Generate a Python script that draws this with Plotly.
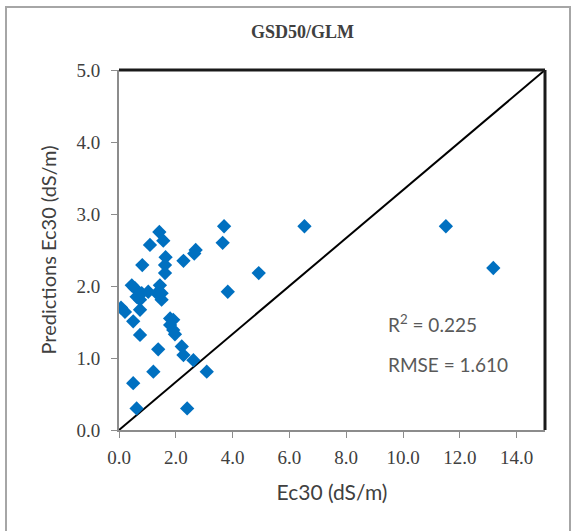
import plotly.graph_objects as go

# Observed Ec30 (dS/m) and predicted Ec30 (dS/m)
ec30_obs = [0.07, 0.21, 0.45, 0.56, 0.50, 0.50, 0.62, 0.62, 0.74, 0.74, 0.74, 0.80,
            0.82, 1.03, 1.09, 1.21, 1.33, 1.38, 1.42, 1.44, 1.50, 1.50, 1.56, 1.62,
            1.62, 1.64, 1.80, 1.91, 1.80, 1.91, 1.97, 2.21, 2.27, 2.27, 2.40, 2.62,
            2.65, 2.70, 3.09, 3.65, 3.70, 3.83, 4.92, 6.53, 11.51, 13.18]
ec30_pred = [1.70, 1.64, 2.01, 1.97, 1.51, 0.65, 0.30, 1.85, 1.81, 1.67, 1.32, 1.90,
             2.29, 1.92, 2.57, 0.81, 1.90, 1.12, 2.75, 2.01, 1.81, 1.90, 2.63, 2.29,
             2.18, 2.40, 1.55, 1.53, 1.46, 1.39, 1.33, 1.16, 1.04, 2.35, 0.30, 0.97,
             2.45, 2.50, 0.81, 2.60, 2.83, 1.92, 2.18, 2.83, 2.83, 2.25]
line_x = [0, 15]
line_y = [0, 5]
x_ticks = [0, 2, 4, 6, 8, 10, 12, 14]
y_ticks = [0, 1, 2, 3, 4, 5]
title_text = "GSD50/GLM"
stats_text = ["R<sup>2</sup> = 0.225", "RMSE = 1.610"]

L, R, T, B = 119, 30, 70, 101
W, H = 575, 531
pw, ph = W - L - R, H - T - B

def px(x):
    return (x - L) / pw

def py(y):
    return (H - B - y) / ph

fig = go.Figure()
fig.add_trace(go.Scatter(x=line_x, y=line_y, mode="lines",
                         line=dict(color="black", width=2), hoverinfo="skip"))
fig.add_trace(go.Scatter(x=ec30_obs, y=ec30_pred, mode="markers",
                         marker=dict(symbol="diamond", size=11, color="#0070C0")))

tick_font = dict(family="Liberation Serif", size=19, color="#404040")
xtitle_font = dict(family="Lato", size=21, color="#404040")
ytitle_font = dict(family="Lato", size=20, color="#404040")
stats_font = dict(family="Lato", size=19, color="#595959")

fig.update_layout(
    width=W, height=H,
    margin=dict(l=L, r=R, t=T, b=B),
    paper_bgcolor="white", plot_bgcolor="white",
    showlegend=False,
    xaxis=dict(range=[0, 15], tickvals=x_ticks, ticktext=[f"{v:.1f}" for v in x_ticks],
               showgrid=False, zeroline=False, showline=True, linecolor="#8c8c8c",
               linewidth=2, ticks="outside", ticklen=6, tickcolor="#8c8c8c",
               tickfont=tick_font, ticklabelstandoff=3,
               title=dict(text="Ec30 (dS/m)", font=xtitle_font, standoff=19)),
    yaxis=dict(range=[0, 5], tickvals=y_ticks, ticktext=[f"{v:.1f}" for v in y_ticks],
               showgrid=False, zeroline=False, showline=True, linecolor="#8c8c8c",
               linewidth=2, ticks="outside", ticklen=6, tickcolor="#8c8c8c",
               tickfont=tick_font, ticklabelstandoff=7,
               title=dict(text="Predictions Ec30 (dS/m)", font=ytitle_font, standoff=14)),
    annotations=[
        dict(text="<b>" + title_text + "</b>", x=px(302), y=py(32), xref="paper", yref="paper",
             xanchor="center", yanchor="middle", showarrow=False,
             font=dict(family="Liberation Serif", size=18, color="#404040")),
        dict(text=stats_text[0], x=px(386), y=py(323), xref="paper", yref="paper",
             xanchor="left", yanchor="middle", showarrow=False, font=stats_font),
        dict(text=stats_text[1], x=px(386), y=py(364), xref="paper", yref="paper",
             xanchor="left", yanchor="middle", showarrow=False, font=stats_font),
    ],
    shapes=[
        dict(type="line", xref="paper", yref="paper", x0=0, y0=1, x1=1, y1=1,
             line=dict(color="#1a1a1a", width=3)),
        dict(type="line", xref="paper", yref="paper", x0=1, y0=0, x1=1, y1=1,
             line=dict(color="#1a1a1a", width=3)),
        dict(type="rect", xref="paper", yref="paper", x0=px(6), y0=py(545), x1=px(570), y1=py(7),
             line=dict(color="#a6a6a6", width=2), layer="below"),
    ],
)

fig.write_html("out.html", config={"displayModeBar": False},
               post_script="document.body.style.margin='0';")
